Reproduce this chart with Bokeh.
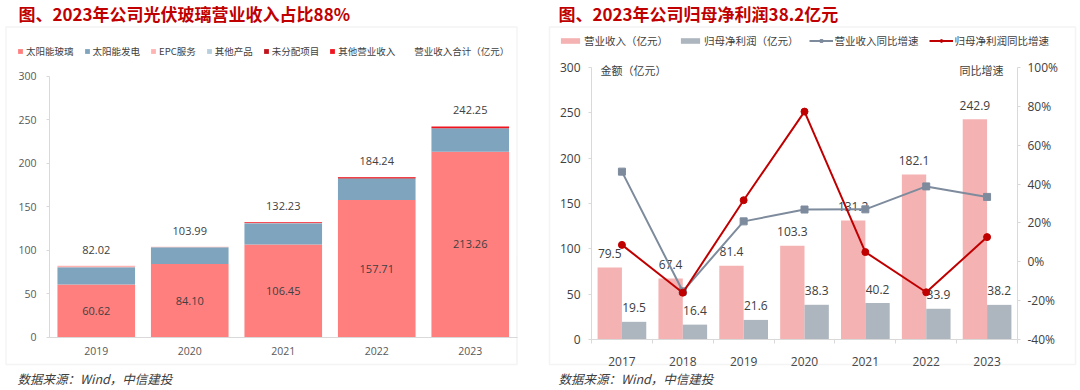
from bokeh.plotting import figure
from bokeh.models import (ColumnDataSource, Range1d, LinearAxis, Legend, LegendItem,
                          Label, BoxAnnotation, FixedTicker, PrintfTickFormatter)
from bokeh.core.properties import value
from bokeh.embed import file_html
from bokeh.resources import INLINE

# ---------------- Left chart data ----------------
years_l = ["2019", "2020", "2021", "2022", "2023"]
glass = [60.62, 84.10, 106.45, 157.71, 213.26]
power = [19.70, 19.29, 24.58, 24.73, 26.99]
epc = [1.70, 0.60, 0.20, 0.00, 0.00]
other_prod = [0.00, 0.00, 0.00, 0.00, 0.00]
unalloc = [0.00, 0.00, 0.00, 0.90, 0.00]
other_inc = [0.00, 0.00, 1.00, 0.90, 2.00]
totals = [82.02, 103.99, 132.23, 184.24, 242.25]
names_l = ["太阳能玻璃", "太阳能发电", "EPC服务", "其他产品", "未分配项目", "其他营业收入"]
colors_l = ["#FF7F7F", "#7FA5BE", "#FFB3B3", "#B7CEDD", "#C0141C", "#F0141E"]
total_name = "营业收入合计（亿元）"
yticks_l = [0, 50, 100, 150, 200, 250, 300]

# ---------------- Right chart data ----------------
years_r = ["2017", "2018", "2019", "2020", "2021", "2022", "2023"]
revenue = [79.5, 67.4, 81.4, 103.3, 131.2, 182.1, 242.9]
profit = [19.5, 16.4, 21.6, 38.3, 40.2, 33.9, 38.2]
rev_yoy = [46.4, -15.2, 20.8, 26.9, 27.0, 38.8, 33.4]
profit_yoy = [8.7, -15.9, 31.7, 77.3, 5.0, -15.7, 12.7]
names_r = ["营业收入（亿元）", "归母净利润（亿元）", "营业收入同比增速", "归母净利润同比增速"]
yticks_r = [0, 50, 100, 150, 200, 250, 300]
pct_ticks = [-40, -20, 0, 20, 40, 60, 80, 100]

CJK = "Noto Sans CJK SC"
NUM = "Open Sans"
TXT = "#404040"
AX = "#595959"
GRID = "#D9D9D9"
TITLE_C = "#C00000"

# ---------------- page geometry (pixels) ----------------
X0, X1, Y0, Y1 = 0, 1077, 0, 388          # figure area on the page
W, H = X1 - X0, Y1 - Y0

def sx(px):
    return px - X0

def sy(py):
    return Y1 - py

def xr(origin_px, ppu):
    return Range1d((X0 - origin_px) / ppu, (X1 - origin_px) / ppu)

def yr(py_ref, v_ref, ppu):
    return Range1d(v_ref - (Y1 - py_ref) / ppu, v_ref + (py_ref - Y0) / ppu)

# left chart: plot area x 49..516.5, y 0 at 336.7, 300 at 75.7
L_X, L_CW, L_Y0, L_PPU = 49, 93.5, 336.7, 261 / 300
# right chart: plot area x 591..1017, y 0 at 339, 300 at 67
R_X, R_CW, R_Y0, R_PPU = 591, 426 / 7, 339, 272 / 300
PCT_PPU = 272 / 140

p = figure(width=W, height=H, x_range=xr(R_X, R_CW), y_range=yr(R_Y0, 0, R_PPU),
           x_axis_location=None, y_axis_location=None,
           output_backend="svg", toolbar_location=None,
           min_border_left=0, min_border_right=0, min_border_top=0, min_border_bottom=0)
p.extra_x_ranges = {"xl": xr(L_X, L_CW)}
p.extra_y_ranges = {"yl": yr(L_Y0, 0, L_PPU), "pct": yr(R_Y0, -40, PCT_PPU)}
p.outline_line_color = None
p.grid.grid_line_color = None

# ======================= LEFT CHART =======================
pos_l = [i + 0.5 for i in range(len(years_l))]
src_l = ColumnDataSource(dict(x=pos_l, year=years_l, **{
    names_l[0]: glass, names_l[1]: power, names_l[2]: epc,
    names_l[3]: other_prod, names_l[4]: unalloc, names_l[5]: other_inc},
    total=totals, mid=[g / 2 for g in glass],
    glass_txt=["%.2f" % g for g in glass], total_txt=["%.2f" % t for t in totals]))

rends = p.vbar_stack(names_l, x="x", width=0.83, fill_color=colors_l, line_color=None, source=src_l,
                     x_range_name="xl", y_range_name="yl")
inv = p.scatter(x="x", y="total", source=src_l, size=1, fill_alpha=0, line_alpha=0,
                x_range_name="xl", y_range_name="yl")

p.text(x="x", y="mid", text="glass_txt", source=src_l, text_align="center", text_baseline="middle",
       text_font=value(NUM), text_font_size="11px", text_color=TXT, x_range_name="xl", y_range_name="yl")
p.text(x="x", y="total", text="total_txt", source=src_l, text_align="center", text_baseline="middle",
       y_offset=-16, text_font=value(NUM), text_font_size="11px", text_color=TXT,
       x_range_name="xl", y_range_name="yl")

ayl = LinearAxis(x_range_name="xl", y_range_name="yl", fixed_location=0, bounds=(0, 300),
                 ticker=FixedTicker(ticks=yticks_l))
axl = LinearAxis(x_range_name="xl", y_range_name="yl", fixed_location=0, bounds=(0, len(years_l)),
                 ticker=FixedTicker(ticks=pos_l),
                 major_label_overrides={x: y for x, y in zip(pos_l, years_l)})
for ax in (ayl, axl):
    ax.axis_line_color = GRID
    ax.major_label_text_font = NUM
    ax.major_label_text_font_size = "10.5px"
    ax.major_label_text_color = AX
    ax.minor_tick_line_color = None
ayl.major_tick_line_color = GRID
ayl.major_tick_in = 0
ayl.major_tick_out = 3
ayl.major_label_standoff = 10
axl.major_tick_line_color = None
axl.major_tick_in = 0
axl.major_tick_out = 0
axl.major_label_standoff = 10
p.add_layout(ayl, "left")
p.add_layout(axl, "below")

items_l = [LegendItem(label=n, renderers=[r]) for n, r in zip(names_l, rends)]
items_l.append(LegendItem(label=total_name, renderers=[inv]))
p.add_layout(Legend(items=items_l, orientation="horizontal", location=(sx(17), sy(51 + 6.5)),
                    glyph_width=6, glyph_height=6, label_standoff=3, spacing=10, padding=0, margin=0,
                    label_height=12, label_width=10, label_text_font=CJK, label_text_font_size="9.5px",
                    label_text_color=TXT, border_line_color=None, background_fill_alpha=0))

p.add_layout(BoxAnnotation(left=sx(5.5), right=sx(516.5), top=sy(26.5), bottom=sy(364),
                           left_units="screen", right_units="screen", top_units="screen", bottom_units="screen",
                           fill_alpha=0, line_color=GRID, line_width=1.5))
p.add_layout(Label(x=sx(18), y=sy(12.7), x_units="screen", y_units="screen",
                   text="图、2023年公司光伏玻璃营业收入占比88%", text_font=CJK, text_font_size="17px",
                   text_font_style="bold", text_color=TITLE_C, text_baseline="middle"))
p.add_layout(Label(x=sx(17), y=sy(378), x_units="screen", y_units="screen",
                   text="数据来源：Wind，中信建投", text_font=CJK, text_font_size="12.5px",
                   text_font_style="italic", text_color=TXT, text_baseline="middle"))

# ======================= RIGHT CHART =======================
pos_r = [i + 0.5 for i in range(len(years_r))]
src_r = ColumnDataSource(dict(x=pos_r, year=years_r, revenue=revenue, profit=profit,
                              rev_yoy=rev_yoy, profit_yoy=profit_yoy,
                              rev_x=[x - 0.2 for x in pos_r], pro_x=[x + 0.2 for x in pos_r],
                              rev_txt=["%.1f" % v for v in revenue], pro_txt=["%.1f" % v for v in profit]))

b1 = p.vbar(x="rev_x", top="revenue", width=0.4, source=src_r, fill_color="#F5B2B2", line_color=None)
b2 = p.vbar(x="pro_x", top="profit", width=0.4, source=src_r, fill_color="#ADB5BF", line_color=None)
p.text(x="rev_x", y="revenue", text="rev_txt", source=src_r, text_align="center", text_baseline="middle",
       y_offset=-14, text_font=value(NUM), text_font_size="12px", text_color=TXT)
p.text(x="pro_x", y="profit", text="pro_txt", source=src_r, text_align="center", text_baseline="middle",
       y_offset=-14, text_font=value(NUM), text_font_size="12px", text_color=TXT)

GRAYLINE = "#7D8B9D"
REDLINE = "#C00000"
l1 = p.line(x="x", y="rev_yoy", source=src_r, y_range_name="pct", line_color=GRAYLINE, line_width=2)
s1 = p.scatter(x="x", y="rev_yoy", source=src_r, y_range_name="pct", marker="square", size=7,
               fill_color=GRAYLINE, line_color=GRAYLINE)
l2 = p.line(x="x", y="profit_yoy", source=src_r, y_range_name="pct", line_color=REDLINE, line_width=2)
s2 = p.scatter(x="x", y="profit_yoy", source=src_r, y_range_name="pct", marker="circle", size=7,
               fill_color=REDLINE, line_color=REDLINE)

ayr = LinearAxis(fixed_location=0, bounds=(0, 300), ticker=FixedTicker(ticks=yticks_r))
apr = LinearAxis(y_range_name="pct", fixed_location=len(years_r), bounds=(-40, 100),
                 ticker=FixedTicker(ticks=pct_ticks), formatter=PrintfTickFormatter(format="%d%%"))
axr = LinearAxis(fixed_location=0, bounds=(0, len(years_r)),
                 ticker=FixedTicker(ticks=pos_r, minor_ticks=list(range(len(years_r) + 1))),
                 major_label_overrides={x: y for x, y in zip(pos_r, years_r)})
for ax in (ayr, apr, axr):
    ax.axis_line_color = GRID
    ax.major_label_text_font = NUM
    ax.major_label_text_color = TXT
    ax.major_label_text_font_size = "12px"
    ax.minor_tick_line_color = None
    ax.major_tick_line_color = GRID
    ax.major_tick_in = 0
    ax.major_tick_out = 3
ayr.major_label_standoff = 8
apr.major_label_standoff = 7
axr.major_tick_line_color = None
axr.major_tick_out = 0
axr.major_label_standoff = 13
axr.minor_tick_line_color = GRID
axr.minor_tick_in = 0
axr.minor_tick_out = 4
p.add_layout(ayr, "left")
p.add_layout(apr, "right")
p.add_layout(axr, "below")

p.add_layout(Legend(items=[LegendItem(label=names_r[0], renderers=[b1]),
                           LegendItem(label=names_r[1], renderers=[b2]),
                           LegendItem(label=names_r[2], renderers=[l1, s1]),
                           LegendItem(label=names_r[3], renderers=[l2, s2])],
                    orientation="horizontal", location=(sx(558), sy(41.7 + 6.5)),
                    glyph_width=24, glyph_height=7, label_standoff=2, spacing=10, padding=0, margin=0,
                    label_height=12, label_width=10, label_text_font=CJK, label_text_font_size="10.5px",
                    label_text_color=TXT, border_line_color=None, background_fill_alpha=0))

p.add_layout(Label(x=sx(600), y=sy(69), x_units="screen", y_units="screen",
                   text="金额（亿元）", text_font=CJK, text_font_size="11px",
                   text_color=TXT, text_baseline="middle"))
p.add_layout(Label(x=sx(1003), y=sy(69), x_units="screen", y_units="screen",
                   text="同比增速", text_font=CJK, text_font_size="11px",
                   text_color=TXT, text_baseline="middle", text_align="right"))

p.add_layout(BoxAnnotation(left=sx(549), right=sx(1075), top=sy(26.5), bottom=sy(364),
                           left_units="screen", right_units="screen", top_units="screen", bottom_units="screen",
                           fill_alpha=0, line_color=GRID, line_width=1.5))
p.add_layout(Label(x=sx(558), y=sy(12.7), x_units="screen", y_units="screen",
                   text="图、2023年公司归母净利润38.2亿元", text_font=CJK, text_font_size="17px",
                   text_font_style="bold", text_color=TITLE_C, text_baseline="middle"))
p.add_layout(Label(x=sx(558), y=sy(378), x_units="screen", y_units="screen",
                   text="数据来源：Wind，中信建投", text_font=CJK, text_font_size="12.5px",
                   text_font_style="italic", text_color=TXT, text_baseline="middle"))

open("out.html", "w").write(file_html(p, INLINE))
